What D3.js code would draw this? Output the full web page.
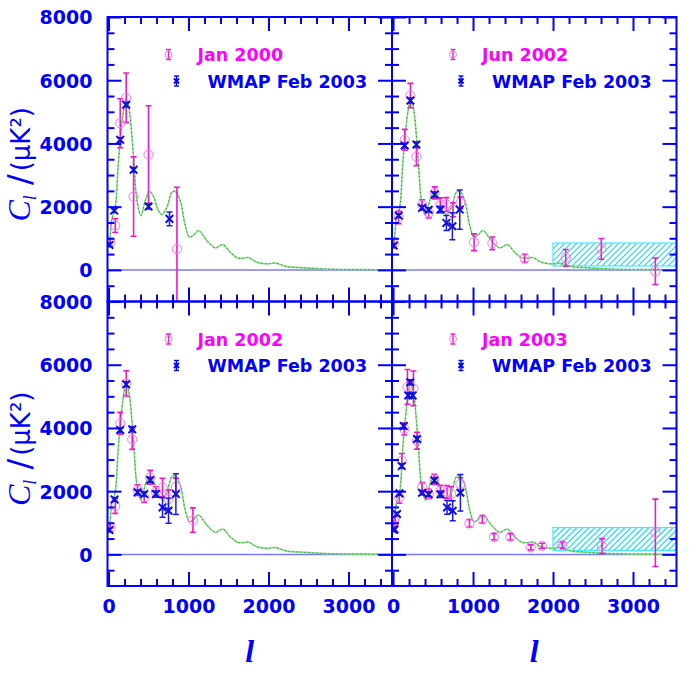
<!DOCTYPE html>
<html><head><meta charset="utf-8">
<script src="https://cdn.jsdelivr.net/npm/d3@7"></script>
<style>body{margin:0;background:#fff}</style>
</head><body><svg id="c" width="692" height="692"></svg>
<script>
// ---------- data ----------
const theoryL  = [2, 20, 42, 84, 120, 146, 188, 221, 250, 271, 313, 355, 405, 459, 513, 567, 613, 667, 730, 792, 834, 896, 959, 1013, 1070, 1125, 1230, 1334, 1430, 1521, 1613, 1680, 1750, 1855, 1980, 2084, 2230, 2396, 2605, 2813, 3230, 3540];
const theoryCl = [780, 1050, 1614, 1980, 3300, 4090, 5040, 5380, 5200, 4830, 3563, 2193, 1718, 2193, 2478, 2297, 1930, 1750, 1980, 2456, 2487, 2193, 1402, 1032, 1120, 1244, 927, 696, 800, 557, 380, 370, 390, 240, 190, 215, 104, 73, 41, 20, 8, 4];

const jan2000L   = [21, 84, 146, 221, 313, 500, 855];
const jan2000Cl  = [873, 1402, 4640, 5443, 2320, 3648, 665];
const jan2000Err = [120, 220, 775, 785, 1255, 1545, 1950];
const wmapAL   = [12, 71, 146, 221, 313, 500, 762];
const wmapACl  = [790, 1876, 4114, 5225, 3165, 2003, 1614];
const wmapAErr = [60, 60, 70, 70, 70, 80, 220];

const jun2002L   = [9, 71, 146, 217, 292, 363, 446, 521, 592, 667, 750, 842, 1013, 1242, 1646, 2159, 2604, 3280];
const jun2002Cl  = [842, 1665, 4114, 5516, 3585, 2057, 1804, 2437, 2057, 2066, 1899, 2120, 873, 842, 367, 380, 665, -44];
const jun2002Err = [150, 200, 330, 385, 290, 160, 160, 190, 220, 220, 220, 185, 265, 200, 130, 265, 330, 420];
const wmapBL   = [9, 71, 146, 217, 292, 363, 446, 521, 592, 667, 742, 834];
const wmapBCl  = [769, 1718, 3934, 5357, 3965, 1962, 1899, 2383, 1908, 1487, 1380, 1908];
const wmapBErr = [60, 60, 70, 80, 80, 70, 70, 80, 100, 237, 427, 623];

const jan2002L   = [21, 84, 146, 221, 296, 363, 446, 521, 592, 675, 750, 842, 1055];
const jan2002Cl  = [854, 1528, 4146, 5411, 3639, 2035, 1804, 2437, 1981, 2120, 1750, 2139, 1085];
const jan2002Err = [130, 230, 345, 400, 316, 170, 160, 220, 160, 290, 290, 275, 385];
const wmapCL   = [12, 75, 146, 221, 296, 363, 446, 521, 592, 675, 750, 842];
const wmapCCl  = [769, 1740, 3934, 5380, 3956, 1962, 1908, 2351, 1908, 1487, 1380, 1908];
const wmapCErr = [60, 60, 70, 80, 80, 70, 70, 80, 100, 316, 395, 643];

const jan2003L   = [5, 15, 25, 80, 109, 142, 180, 255, 300, 363, 446, 517, 592, 675, 725, 842, 955, 1117, 1263, 1467, 1721, 1863, 2117, 2613, 3280];
const jan2003Cl  = [900, 1050, 1150, 1804, 2962, 3965, 5300, 5250, 3595, 2120, 1908, 2373, 2013, 1981, 1920, 2225, 981, 1108, 557, 557, 222, 272, 294, 263, 684];
const jan2003Err = [150, 150, 150, 185, 230, 190, 550, 550, 265, 150, 150, 160, 170, 200, 220, 200, 120, 120, 100, 100, 80, 80, 100, 237, 1065];
const wmapDL   = [5, 17, 50, 80, 109, 134, 190, 215, 245, 300, 363, 446, 517, 592, 675, 746, 842];
const wmapDCl  = [780, 791, 1275, 1930, 2794, 4060, 5030, 5445, 5030, 3650, 1950, 1900, 2340, 1900, 1487, 1380, 1950];
const wmapDErr = [60, 60, 60, 60, 70, 80, 80, 80, 80, 80, 70, 70, 80, 100, 220, 316, 580];

const boxL  = [2000, 3544];
const boxCl = [125, 850];

const xMajor = [0, 1000, 2000, 3000];
const xMinor = [200, 400, 600, 800, 1200, 1400, 1600, 1800, 2200, 2400, 2600, 2800, 3200, 3400];
const yMajor = [0, 2000, 4000, 6000, 8000];
const yMinor = [-500, 500, 1000, 1500, 2500, 3000, 3500, 4500, 5000, 5500, 6500, 7000, 7500];
const legendExp = ["Jan 2000", "Jun 2002", "Jan 2002", "Jan 2003"];
const legendWmap = "WMAP Feb 2003";

// ---------- drawing ----------
const BLUE = "#0000ff", MAG = "#ff00ff", MAGBAR = "#f018c8", MAGCIRC = "#ff70ff", CYAN = "#00e0ff";
const svg = d3.select("#c");
svg.append("rect").attr("width", 692).attr("height", 692).attr("fill", "#fff");
const defs = svg.append("defs");

const xLeft = [107.5, 392], yTop = [17, 301.5], S = 284.5;
const xDomain = [-13, 3544], yDomain = [-1000, 8000];

const panels = [
  {col: 0, row: 0, eL: jan2000L, eC: jan2000Cl, eE: jan2000Err, wL: wmapAL, wC: wmapACl, wE: wmapAErr, box: false},
  {col: 1, row: 0, eL: jun2002L, eC: jun2002Cl, eE: jun2002Err, wL: wmapBL, wC: wmapBCl, wE: wmapBErr, box: true},
  {col: 0, row: 1, eL: jan2002L, eC: jan2002Cl, eE: jan2002Err, wL: wmapCL, wC: wmapCCl, wE: wmapCErr, box: false},
  {col: 1, row: 1, eL: jan2003L, eC: jan2003Cl, eE: jan2003Err, wL: wmapDL, wC: wmapDCl, wE: wmapDErr, box: true}
];

function errbar(g, cx, ya, yb, color, cap, w) {
  g.append("line").attr("x1", cx).attr("x2", cx).attr("y1", ya).attr("y2", yb)
    .attr("stroke", color).attr("stroke-width", w);
  [ya, yb].forEach(yy => g.append("line").attr("x1", cx - cap / 2).attr("x2", cx + cap / 2)
    .attr("y1", yy).attr("y2", yy).attr("stroke", color).attr("stroke-width", w));
}
function xmark(g, cx, cy, r, color) {
  g.append("path").attr("d", `M${cx - r},${cy - r}L${cx + r},${cy + r}M${cx - r},${cy + r}L${cx + r},${cy - r}`)
    .attr("stroke", color).attr("stroke-width", 2).attr("fill", "none");
}

panels.forEach((p, i) => {
  const x0 = xLeft[p.col], y0 = yTop[p.row];
  const x = d3.scaleLinear().domain(xDomain).range([x0, x0 + S]);
  const y = d3.scaleLinear().domain(yDomain).range([y0 + S, y0]);
  const g = svg.append("g");
  defs.append("clipPath").attr("id", "clip" + i).append("rect")
    .attr("x", x0).attr("y", y0).attr("width", S).attr("height", S);
  const plot = g.append("g").attr("clip-path", `url(#clip${i})`);

  if (p.box) {
    const bx = x(boxL[0]), by = y(boxCl[1]), bw = x(boxL[1]) - bx, bh = y(boxCl[0]) - by;
    defs.append("clipPath").attr("id", "boxclip" + i).append("rect")
      .attr("x", bx).attr("y", by).attr("width", bw).attr("height", bh);
    const hg = plot.append("g").attr("clip-path", `url(#boxclip${i})`);
    for (let s = -bh; s < bw + bh; s += 6) {
      hg.append("line").attr("x1", bx + s).attr("y1", by + bh).attr("x2", bx + s + bh).attr("y2", by)
        .attr("stroke", CYAN).attr("stroke-width", 1.1);
    }
    plot.append("rect").attr("x", bx).attr("y", by).attr("width", bw).attr("height", bh)
      .attr("fill", "none").attr("stroke", "#40eaff").attr("stroke-width", 1.2);
  }
  plot.append("line").attr("x1", x0).attr("x2", x0 + S).attr("y1", y(0)).attr("y2", y(0))
    .attr("stroke", "#7878ff").attr("stroke-width", 1.5);

  const th = theoryL.map((l, k) => [l, theoryCl[k]]);
  const line = d3.line().x(d => x(d[0])).y(d => y(d[1])).curve(d3.curveCatmullRom);
  plot.append("path").attr("d", line(th)).attr("fill", "none").attr("stroke", "#7ee07e").attr("stroke-width", 1.6);
  plot.append("path").attr("d", line(th)).attr("fill", "none").attr("stroke", "#2c6a2c")
    .attr("stroke-width", 0.9).attr("stroke-dasharray", "1,3");

  // experiment points
  p.eL.forEach((l, k) => {
    const c = p.eC[k], e = p.eE[k];
    errbar(plot, x(l), y(c + e), y(c - e), MAGBAR, 6, 1.6);
  });
  p.eL.forEach((l, k) => {
    plot.append("circle").attr("cx", x(l)).attr("cy", y(p.eC[k])).attr("r", 4.6)
      .attr("fill", "none").attr("stroke", MAGCIRC).attr("stroke-width", 1);
  });
  // WMAP points
  p.wL.forEach((l, k) => {
    const c = p.wC[k], e = p.wE[k];
    errbar(plot, x(l), y(c + e), y(c - e), "#1a1aee", 6, 1.5);
    xmark(plot, x(l), y(c), 3.8, "#1010e0");
  });

  // ticks on all four sides (inward)
  function ax(fn, vals, size, tr, scale) {
    const a = g.append("g").attr("transform", tr)
      .call(fn(scale).tickValues(vals).tickSize(size).tickFormat(""));
    a.select(".domain").remove();
    a.selectAll("line").attr("stroke", BLUE).attr("stroke-width", 2);
  }
  ax(d3.axisBottom, xMajor, -14, `translate(0,${y0 + S})`, x);
  ax(d3.axisBottom, xMinor, -7, `translate(0,${y0 + S})`, x);
  ax(d3.axisTop, xMajor, -14, `translate(0,${y0})`, x);
  ax(d3.axisTop, xMinor, -7, `translate(0,${y0})`, x);
  ax(d3.axisLeft, yMajor, -14, `translate(${x0},0)`, y);
  ax(d3.axisLeft, yMinor, -7, `translate(${x0},0)`, y);
  ax(d3.axisRight, yMajor, -14, `translate(${x0 + S},0)`, y);
  ax(d3.axisRight, yMinor, -7, `translate(${x0 + S},0)`, y);

  g.append("rect").attr("x", x0).attr("y", y0).attr("width", S).attr("height", S)
    .attr("fill", "none").attr("stroke", BLUE).attr("stroke-width", 2);

  // tick labels
  if (p.col === 0) {
    const a = g.append("g").attr("transform", `translate(${x0},0)`)
      .call(d3.axisLeft(y).tickValues(yMajor).tickSize(0).tickPadding(15).tickFormat(d3.format("d")));
    a.select(".domain").remove();
    a.selectAll("text").attr("fill", BLUE).attr("font-family", "DejaVu Sans").attr("font-weight", "bold")
      .attr("font-size", 19).attr("dy", "0.36em");
    // y title
    const t = g.append("text").attr("transform", `translate(30,${y0 + S / 2 + 5}) rotate(-90)`)
      .attr("text-anchor", "middle").attr("fill", BLUE).attr("font-family", "DejaVu Sans").attr("font-size", 26);
    t.append("tspan").attr("font-family", "Liberation Serif").attr("font-style", "italic").attr("font-size", 32).text("C");
    t.append("tspan").attr("font-family", "Liberation Serif").attr("font-style", "italic").attr("font-size", 18).attr("dy", 6).text("l");
    t.append("tspan").attr("dy", -6).attr("dx", 10).attr("font-size", 32).text("/");
    t.append("tspan").attr("dx", 3).text("(μK²)");
  }
  if (p.row === 1) {
    const a = g.append("g").attr("transform", `translate(0,${y0 + S})`)
      .call(d3.axisBottom(x).tickValues(xMajor).tickSize(0).tickPadding(14).tickFormat(d3.format("d")));
    a.select(".domain").remove();
    a.selectAll("text").attr("fill", BLUE).attr("font-family", "DejaVu Sans").attr("font-weight", "bold")
      .attr("font-size", 19);
    g.append("text").attr("x", x0 + S / 2).attr("y", 662).attr("text-anchor", "middle")
      .attr("fill", BLUE).attr("font-family", "Liberation Serif").attr("font-style", "italic")
      .attr("font-weight", "bold").attr("font-size", 32).text("l");
  }

  // legend
  const lx1 = x0 + 61, ly1 = y0 + 37.5, lx2 = x0 + 69, ly2 = y0 + 64;
  errbar(g, lx1, ly1 - 5, ly1 + 5, MAGBAR, 5, 1.4);
  g.append("circle").attr("cx", lx1).attr("cy", ly1).attr("r", 3.5).attr("fill", "none").attr("stroke", MAGCIRC).attr("stroke-width", 1);
  g.append("text").attr("x", x0 + 90).attr("y", ly1 + 6.5).attr("fill", MAG).attr("font-weight", "bold")
    .attr("font-family", "DejaVu Sans").attr("font-size", 17.5).text(legendExp[i]);
  errbar(g, lx2, ly2 - 5, ly2 + 5, BLUE, 5, 1.4);
  xmark(g, lx2, ly2, 2.5, BLUE);
  g.append("text").attr("x", x0 + 100).attr("y", ly2 + 6.5).attr("fill", BLUE).attr("font-weight", "bold")
    .attr("font-family", "DejaVu Sans").attr("font-size", 17.5).text(legendWmap);
});
</script>
</body></html>
